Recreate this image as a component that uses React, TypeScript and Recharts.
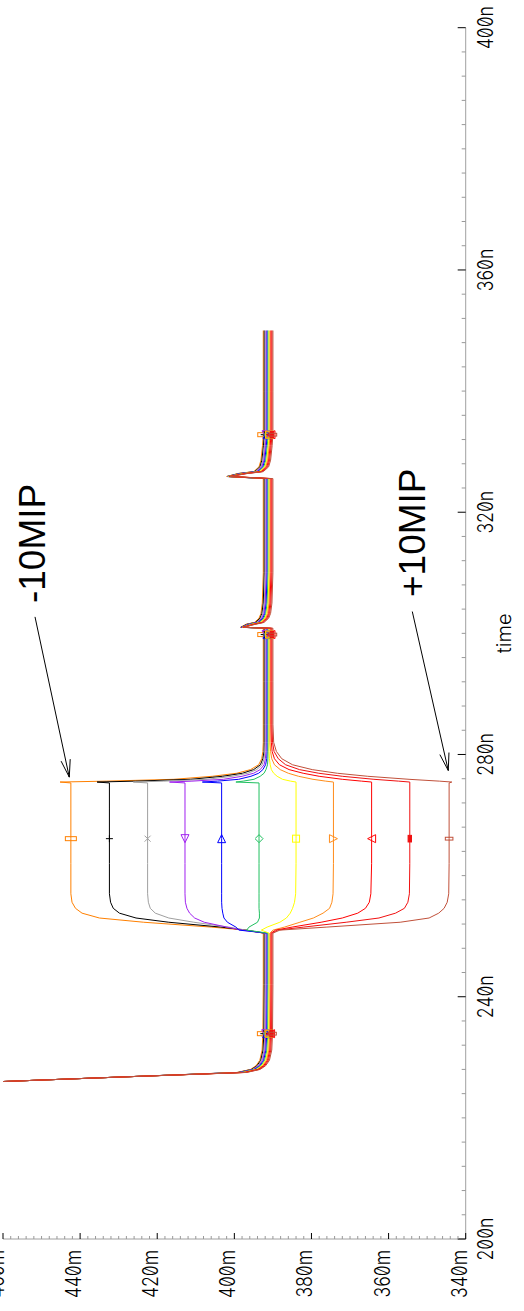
import React from 'react';
import { LineChart, Line, XAxis, YAxis, ReferenceLine, ReferenceDot } from 'recharts';

// time (ns)
const TIMES = [
  226.0, 226.8, 227.5, 228.0, 228.6, 229.5, 231.2, 233.9, 242.0, 250.5,
  251.0, 251.5, 252.3, 253.0, 253.8, 254.6, 255.6, 257.0, 262.0, 266.1, 271.0, 275.3,
  275.45, 275.6, 275.9, 276.4, 276.9, 277.5, 278.3, 279.3, 280.5, 282.0, 285.0, 292.0,
  299.8,
  300.85, 301.0, 301.5, 301.8, 302.5, 303.3, 305.0, 310.0,
  325.55, 325.9, 326.4, 326.7, 327.5, 328.6, 331.0, 332.8, 340.0, 350.0,
];

// voltages (mV)
const ORANGE_1 = [
  460, 427.2, 399.3, 395.8, 394.4, 393.4, 392.8, 392.6, 392.5, 392.5,
  397.0, 406.0, 423.5, 435.0, 439.5, 441.2, 442.1, 442.4, 442.4, 442.4, 442.4, 442.4,
  445.2, 433.1, 415.7, 405.7, 399.4, 395.8, 393.7, 392.9, 392.6, 392.5, 392.5, 392.5,
  392.5,
  392.5, 398.4, 397.0, 394.8, 393.6, 393.1, 392.75, 392.5,
  392.5, 402.0, 399.0, 395.0, 393.6, 393.1, 392.7, 392.5, 392.5, 392.5,
];
const BLACK = [
  460, 427.2, 399.05, 395.55, 394.15, 393.15, 392.55, 392.35, 392.25, 392.25,
  397.0, 403.5, 417.0, 425.5, 429.8, 431.4, 432.1, 432.4, 432.4, 432.4, 432.4, 432.4,
  435.6, 425.6, 411.3, 403.1, 397.9, 395.0, 393.25, 392.6, 392.3, 392.25, 392.25, 392.25,
  392.25,
  392.25, 398.3, 396.75, 394.55, 393.35, 392.85, 392.5, 392.25,
  392.25, 401.9, 398.75, 394.75, 393.35, 392.85, 392.45, 392.25, 392.25, 392.25,
];
const GRAY = [
  460, 427.2, 398.8, 395.3, 393.9, 392.9, 392.3, 392.1, 392.0, 392.0,
  397.0, 401.5, 410.5, 417.0, 420.5, 421.8, 422.3, 422.5, 422.5, 422.5, 422.5, 422.5,
  426.2, 418.3, 407.1, 400.6, 396.5, 394.2, 392.8, 392.3, 392.1, 392.0, 392.0, 392.0,
  392.0,
  392.0, 398.2, 396.5, 394.3, 393.1, 392.6, 392.25, 392.0,
  392.0, 401.8, 398.5, 394.5, 393.1, 392.6, 392.2, 392.0, 392.0, 392.0,
];
const PURPLE = [
  460, 427.2, 398.55, 395.05, 393.65, 392.65, 392.05, 391.85, 391.75, 391.75,
  398.0, 402.0, 407.8, 410.3, 411.6, 412.3, 412.7, 412.8, 412.8, 412.8, 412.8, 412.8,
  416.8, 411.0, 402.8, 398.0, 395.0, 393.3, 392.3, 391.95, 391.8, 391.75, 391.75, 391.75,
  391.75,
  391.75, 398.2, 396.25, 394.05, 392.85, 392.35, 392.0, 391.75,
  391.75, 401.7, 398.25, 394.25, 392.85, 392.35, 391.95, 391.75, 391.75, 391.75,
];
const BLUE = [
  460, 427.2, 398.3, 394.8, 393.4, 392.4, 391.8, 391.6, 391.5, 391.5,
  398.8, 399.6, 401.8, 402.7, 403.0, 403.2, 403.3, 403.3, 403.3, 403.3, 403.3, 403.3,
  408.3, 404.4, 398.9, 395.7, 393.7, 392.6, 391.9, 391.6, 391.5, 391.5, 391.5, 391.5,
  391.5,
  391.5, 398.1, 396.0, 393.8, 392.6, 392.1, 391.75, 391.5,
  391.5, 401.6, 398.0, 394.0, 392.6, 392.1, 391.7, 391.5, 391.5, 391.5,
];
const GREEN = [
  460, 427.2, 398.05, 394.55, 393.15, 392.15, 391.55, 391.35, 391.25, 391.25,
  396.8, 396.2, 394.0, 393.5, 393.5, 393.6, 393.6, 393.6, 393.6, 393.6, 393.6, 393.6,
  399.6, 397.7, 394.9, 393.3, 392.3, 391.8, 391.4, 391.3, 391.25, 391.25, 391.25, 391.25,
  391.25,
  391.25, 398.0, 395.75, 393.55, 392.35, 391.85, 391.5, 391.25,
  391.25, 401.6, 397.75, 393.75, 392.35, 391.85, 391.45, 391.25, 391.25, 391.25,
];
const YELLOW = [
  460, 427.2, 397.8, 394.3, 392.9, 391.9, 391.3, 391.1, 391.0, 391.0,
  393.0, 391.5, 388.2, 386.5, 385.5, 384.9, 384.4, 384.1, 384.0, 384.0, 384.0, 384.0,
  384.0, 385.4, 387.5, 388.9, 389.8, 390.4, 390.7, 390.9, 391.0, 391.0, 391.0, 391.0,
  391.0,
  391.0, 397.9, 395.5, 393.3, 392.1, 391.6, 391.25, 391.0,
  391.0, 401.5, 397.5, 393.5, 392.1, 391.6, 391.2, 391.0, 391.0, 391.0,
];
const ORANGE_2 = [
  460, 427.2, 397.55, 394.05, 392.65, 391.65, 391.05, 390.85, 390.75, 390.75,
  390.0, 387.0, 383.0, 379.5, 377.0, 375.3, 374.7, 374.4, 374.3, 374.3, 374.3, 374.3,
  374.3, 376.3, 379.6, 383.35, 386.0, 388.1, 389.6, 390.3, 390.6, 390.75, 390.75, 390.75,
  390.75,
  390.75, 397.8, 395.25, 393.05, 391.85, 391.35, 391.0, 390.75,
  390.75, 401.4, 397.25, 393.25, 391.85, 391.35, 390.95, 390.75, 390.75, 390.75,
];
const RED_1 = [
  460, 427.2, 397.3, 393.8, 392.4, 391.4, 390.8, 390.6, 390.5, 390.5,
  389.3, 385.0, 377.5, 372.0, 368.0, 366.0, 365.0, 364.6, 364.4, 364.4, 364.4, 364.4,
  364.4, 367.0, 372.0, 378.0, 382.15, 385.8, 388.3, 389.6, 390.2, 390.4, 390.5, 390.5,
  390.5,
  390.5, 397.8, 395.0, 392.8, 391.6, 391.1, 390.75, 390.5,
  390.5, 401.3, 397.0, 393.0, 391.6, 391.1, 390.7, 390.5, 390.5, 390.5,
];
const RED_2 = [
  460, 427.2, 397.05, 393.55, 392.15, 391.15, 390.55, 390.35, 390.25, 390.25,
  388.8, 382.0, 371.0, 362.5, 358.2, 355.9, 355.0, 354.6, 354.5, 354.5, 354.5, 354.5,
  354.5, 357.4, 363.8, 372.0, 378.1, 383.1, 386.7, 388.6, 389.7, 390.1, 390.25, 390.25,
  390.25,
  390.25, 397.7, 394.75, 392.55, 391.35, 390.85, 390.5, 390.25,
  390.25, 401.2, 396.75, 392.75, 391.35, 390.85, 390.45, 390.25, 390.25, 390.25,
];
const BROWN = [
  460, 427.2, 396.8, 393.3, 391.9, 390.9, 390.3, 390.1, 390.0, 390.0,
  388.2, 376.0, 357.0, 349.5, 347.0, 345.6, 344.8, 344.4, 344.3, 344.3, 344.3, 344.3,
  343.6, 346.85, 354.7, 365.4, 373.3, 379.8, 384.9, 387.7, 389.1, 389.8, 390.0, 390.0,
  390.0,
  390.0, 397.6, 394.5, 392.3, 391.1, 390.6, 390.25, 390.0,
  390.0, 401.1, 396.5, 392.5, 391.1, 390.6, 390.2, 390.0, 390.0, 390.0,
];

const MARKER_TIMES = [233.9, 266.1, 299.8, 332.8];

const TIME_TICKS = [
  200, 204, 208, 212, 216, 220, 224, 228, 232, 236, 240, 244, 248, 252, 256, 260, 264, 268,
  272, 276, 280, 284, 288, 292, 296, 300, 304, 308, 312, 316, 320, 324, 328, 332, 336, 340,
  344, 348, 352, 356, 360, 364, 368, 372, 376, 380, 384, 388, 392, 396, 400,
];
const TIME_LABELS = [200, 240, 280, 320, 360, 400];
const VOLT_TICKS = [
  340, 342, 344, 346, 348, 350, 352, 354, 356, 358, 360, 362, 364, 366, 368, 370, 372, 374,
  376, 378, 380, 382, 384, 386, 388, 390, 392, 394, 396, 398, 400, 402, 404, 406, 408, 410,
  412, 414, 416, 418, 420, 422, 424, 426, 428, 430, 432, 434, 436, 438, 440, 442, 444, 446,
  448, 450, 452, 454, 456, 458, 460,
];
const VOLT_LABELS = [340, 360, 380, 400, 420, 440, 460];

// annotations (time ns, voltage mV)
const MINUS_TEXT = { label: '-10MIP', t: 305.0, v: 449.1 };
const PLUS_TEXT = { label: '+10MIP', t: 306.0, v: 350.56 };
const MINUS_ARROW = [[302.72, 451.7], [276.26, 442.81]];
const MINUS_BARBS = [[279.23, 442.57], [278.9, 444.93]];
const PLUS_ARROW = [[303.6, 353.85], [277.35, 344.52]];
const PLUS_BARBS = [[280.32, 344.34], [279.98, 346.7]];

const SERIES = [
  { key: 's0', values: ORANGE_1, color: '#ff8000', marker: 'vrect' },
  { key: 's1', values: BLACK, color: '#000000', marker: 'plus' },
  { key: 's2', values: GRAY, color: '#a0a0a0', marker: 'cross' },
  { key: 's3', values: PURPLE, color: '#a020f0', marker: 'triLeft' },
  { key: 's4', values: BLUE, color: '#0000ff', marker: 'triRight' },
  { key: 's5', values: GREEN, color: '#20c060', marker: 'diamond' },
  { key: 's6', values: YELLOW, color: '#ffff00', marker: 'square' },
  { key: 's7', values: ORANGE_2, color: '#ff8c1a', marker: 'triDown' },
  { key: 's8', values: RED_1, color: '#ff0000', marker: 'triUp' },
  { key: 's9', values: RED_2, color: '#f01010', marker: 'hrectFilled' },
  { key: 's10', values: BROWN, color: '#c0503a', marker: 'vrectThin' },
];

const rows = TIMES.map((t, k) => {
  const r: any = { t };
  SERIES.forEach((s) => {
    r[s.key] = s.values[k];
  });
  return r;
});

const TICK_FONT: any = {
  fontFamily: 'Inter, "DejaVu Sans", sans-serif',
  fontWeight: 300,
  fontSize: 22,
  fill: '#000',
  fontFeatureSettings: '"zero" 1',
};

const TimeTick = (props: any) => {
  const { x, y, payload } = props;
  const v = payload.value;
  const major = TIME_LABELS.includes(v);
  return (
    <g>
      <line x1={x} y1={y} x2={x} y2={y - (major ? 8 : 4)} stroke={major ? '#000' : '#999'} strokeWidth={1} />
      {major && (
        <text transform={`translate(${x},${y + 27}) scale(0.8,1)`} textAnchor="middle" style={TICK_FONT}>
          {`${v}n`}
        </text>
      )}
    </g>
  );
};

const VoltTick = (props: any) => {
  const { x, y, payload } = props;
  const v = payload.value;
  const major = VOLT_LABELS.includes(v);
  return (
    <g>
      <line x1={x} y1={y} x2={x + (major ? 6 : 3)} y2={y} stroke={major ? '#000' : '#999'} strokeWidth={1} />
      {major && (
        <text transform={`translate(${x - 11},${y + 1}) scale(0.8,1)`} textAnchor="end" style={TICK_FONT}>
          {`${v}m`}
        </text>
      )}
    </g>
  );
};

function Marker({ cx, cy, kind, color }: any) {
  const p = { fill: 'none', stroke: color, strokeWidth: 1 };
  switch (kind) {
    case 'vrect':
      return <rect x={cx - 2} y={cy - 5.5} width={4} height={11} {...p} />;
    case 'plus':
      return <path d={`M${cx - 3.5},${cy}H${cx + 3.5}M${cx},${cy - 3.5}V${cy + 3.5}`} {...p} />;
    case 'cross':
      return <path d={`M${cx - 3},${cy - 3}L${cx + 3},${cy + 3}M${cx - 3},${cy + 3}L${cx + 3},${cy - 3}`} {...p} />;
    case 'triLeft':
      return <polygon points={`${cx - 4},${cy} ${cx + 4},${cy - 4} ${cx + 4},${cy + 4}`} {...p} />;
    case 'triRight':
      return <polygon points={`${cx + 4},${cy} ${cx - 4},${cy - 4} ${cx - 4},${cy + 4}`} {...p} />;
    case 'diamond':
      return <polygon points={`${cx},${cy - 4} ${cx + 4},${cy} ${cx},${cy + 4} ${cx - 4},${cy}`} {...p} />;
    case 'square':
      return <rect x={cx - 3.5} y={cy - 3.5} width={7} height={7} {...p} />;
    case 'triDown':
      return <polygon points={`${cx - 4},${cy - 4} ${cx + 4},${cy - 4} ${cx},${cy + 4}`} {...p} />;
    case 'triUp':
      return <polygon points={`${cx},${cy - 4} ${cx + 4},${cy + 4} ${cx - 4},${cy + 4}`} {...p} />;
    case 'hrectFilled':
      return <rect x={cx - 3.3} y={cy - 1.7} width={6.6} height={3.4} fill={color} stroke={color} />;
    case 'vrectThin':
      return <rect x={cx - 1.4} y={cy - 3.8} width={2.8} height={7.6} {...p} />;
    default:
      return <g />;
  }
}

const makeDot = (s: any) => (props: any) => {
  const { cx, cy, payload, index } = props;
  if (!MARKER_TIMES.includes(payload.t)) return <g key={`d-${s.key}-${index}`} />;
  return (
    <g key={`d-${s.key}-${index}`}>
      <Marker cx={cx} cy={cy} kind={s.marker} color={s.color} />
    </g>
  );
};

const annoText = (label: string) => (p: any) => (
  <text
    x={p.cx}
    y={p.cy}
    textAnchor="start"
    style={{ fontFamily: '"Liberation Sans", Arial, sans-serif', fontSize: 37, fill: '#000' }}
  >
    {label}
  </text>
);

const seg = (a: number[], b: number[]) => [
  { x: a[0], y: a[1] },
  { x: b[0], y: b[1] },
];

export default function App() {
  const W = 1311;
  const H = 524;
  return (
    <div
      style={{
        position: 'absolute',
        left: 0,
        top: 0,
        width: W,
        height: H,
        transformOrigin: '0 0',
        transform: `translateY(${W}px) rotate(-90deg)`,
        background: '#fff',
      }}
    >
      <LineChart width={W} height={H} data={rows} margin={{ top: 3, right: 27.7, bottom: 0, left: 0 }}>
        <XAxis
          dataKey="t"
          type="number"
          domain={[200, 400]}
          ticks={TIME_TICKS}
          interval={0}
          tickSize={0}
          tickMargin={0}
          tickLine={false}
          axisLine={{ stroke: '#a0a0a0' }}
          tick={<TimeTick />}
          height={58.3}
          allowDataOverflow
          label={{
            value: 'time',
            position: 'insideBottom',
            offset: 13,
            fill: '#000',
            fontSize: 20,
            fontFamily: 'Inter, "DejaVu Sans", sans-serif',
            fontWeight: 300,
          }}
        />
        <YAxis
          type="number"
          domain={[340, 460]}
          ticks={VOLT_TICKS}
          interval={0}
          tickSize={0}
          tickMargin={0}
          tickLine={false}
          axisLine={{ stroke: '#a0a0a0' }}
          tick={<VoltTick />}
          width={72}
          allowDataOverflow
        />
        {SERIES.map((s) => (
          <Line
            key={s.key}
            dataKey={s.key}
            type="linear"
            stroke={s.color}
            strokeWidth={1}
            dot={makeDot(s)}
            activeDot={false}
            isAnimationActive={false}
          />
        ))}
        <ReferenceLine segment={seg(MINUS_ARROW[0], MINUS_ARROW[1])} stroke="#000" strokeWidth={1} ifOverflow="visible" />
        <ReferenceLine segment={seg(MINUS_BARBS[0], MINUS_ARROW[1])} stroke="#000" strokeWidth={1} ifOverflow="visible" />
        <ReferenceLine segment={seg(MINUS_BARBS[1], MINUS_ARROW[1])} stroke="#000" strokeWidth={1} ifOverflow="visible" />
        <ReferenceLine segment={seg(PLUS_ARROW[0], PLUS_ARROW[1])} stroke="#000" strokeWidth={1} ifOverflow="visible" />
        <ReferenceLine segment={seg(PLUS_BARBS[0], PLUS_ARROW[1])} stroke="#000" strokeWidth={1} ifOverflow="visible" />
        <ReferenceLine segment={seg(PLUS_BARBS[1], PLUS_ARROW[1])} stroke="#000" strokeWidth={1} ifOverflow="visible" />
        <ReferenceDot x={MINUS_TEXT.t} y={MINUS_TEXT.v} r={1} ifOverflow="visible" shape={annoText(MINUS_TEXT.label)} />
        <ReferenceDot x={PLUS_TEXT.t} y={PLUS_TEXT.v} r={1} ifOverflow="visible" shape={annoText(PLUS_TEXT.label)} />
      </LineChart>
    </div>
  );
}
